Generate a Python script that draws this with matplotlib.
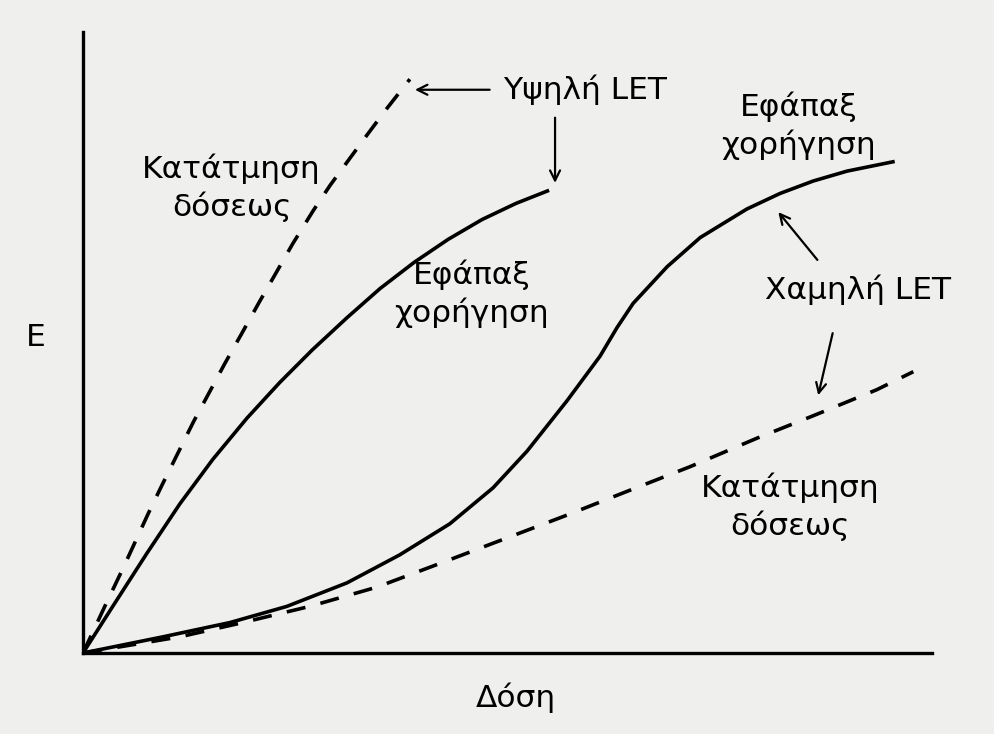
import numpy as np
import matplotlib.pyplot as plt

# δόση (x) και επίδραση E (y), αυθαίρετες μονάδες 0-100
high_frac_x = [0, 2.6, 4.7, 7.7, 9.4, 13.0, 16.7, 18.8, 20.8, 22.9, 24.7, 27.1,
               29.1, 31.4, 33.5, 35.8, 38.5]
high_frac_y = [0, 7.6, 13.6, 22.5, 27.3, 37.2, 46.6, 51.7, 56.6, 61.6, 65.9, 71.2,
               75.3, 79.6, 83.5, 87.7, 92.4]

high_single_x = [0, 3.5, 7.5, 11.4, 15.3, 19.3, 23.2, 27.0, 31.1, 35.0, 39.0, 43.0,
                 47.0, 51.0, 54.7]
high_single_y = [0, 7.5, 16.0, 24.0, 31.2, 37.8, 43.6, 48.8, 54.0, 58.7, 62.9, 66.6,
                 69.8, 72.4, 74.4]

low_single_x = [0, 9.4, 17.3, 24.0, 31.1, 37.3, 43.2, 48.3, 52.3, 57.0, 60.9, 62.9,
                64.8, 68.8, 72.7, 78.2, 82.1, 86.0, 90.0, 95.4]
low_single_y = [0, 2.6, 4.9, 7.5, 11.3, 15.8, 20.8, 26.6, 32.5, 40.6, 47.8, 52.4,
                56.3, 62.2, 66.9, 71.5, 74.0, 76.0, 77.6, 79.1]

low_frac_x = [0, 11.4, 18.5, 26.7, 34.6, 42.0, 49.5, 57.0, 64.4, 71.5, 79.4, 86.0,
              93.5, 97.8]
low_frac_y = [0, 2.6, 4.8, 7.5, 10.6, 14.4, 18.3, 22.2, 26.2, 30.0, 34.6, 38.2,
              42.4, 45.3]

bg = '#efefed'
fs = 22.5
lw = 2.6
plt.rcParams['font.family'] = ['DejaVu Sans']

fig = plt.figure(figsize=(9.94, 7.34), dpi=100, facecolor=bg)
ax = fig.add_axes([83/994, 81/734, 849/994, 621/734])
ax.set_facecolor(bg)

ax.plot(high_frac_x, high_frac_y, color='black', lw=lw, dashes=(5.3, 4.3))
ax.plot(high_single_x, high_single_y, color='black', lw=lw, solid_joinstyle='round')
ax.plot(low_single_x, low_single_y, color='black', lw=lw, solid_joinstyle='round')
ax.plot(low_frac_x, low_frac_y, color='black', lw=lw, dashes=(5.3, 4.3))

ax.set_xlim(0, 100)
ax.set_ylim(0, 100)
for s in ['top', 'right']:
    ax.spines[s].set_visible(False)
for s in ['left', 'bottom']:
    ax.spines[s].set_linewidth(2.4)
ax.set_xticks([])
ax.set_yticks([])

# ετικέτες
ax.text(17.5, 74.9, 'Κατάτμηση\nδόσεως', fontsize=fs, ha='center', va='center', linespacing=1.3)
ax.text(59.1, 90.7, 'Υψηλή LET', fontsize=fs, ha='center', va='center')
ax.text(45.8, 57.8, 'Εφάπαξ\nχορήγηση', fontsize=fs, ha='center', va='center', linespacing=1.3)
ax.text(84.3, 84.9, 'Εφάπαξ\nχορήγηση', fontsize=fs, ha='center', va='center', linespacing=1.3)
ax.text(91.3, 58.5, 'Χαμηλή LET', fontsize=fs, ha='center', va='center')
ax.text(83.3, 23.5, 'Κατάτμηση\nδόσεως', fontsize=fs, ha='center', va='center', linespacing=1.3)

arrow = dict(arrowstyle='->', color='black', lw=1.6, mutation_scale=18, shrinkA=0, shrinkB=0)
ax.annotate('', xy=(39.1, 90.7), xytext=(47.9, 90.7), arrowprops=arrow)
ax.annotate('', xy=(55.6, 75.7), xytext=(55.6, 86.2), arrowprops=arrow)
ax.annotate('', xy=(81.9, 71.0), xytext=(86.5, 63.3), arrowprops=arrow)
ax.annotate('', xy=(86.6, 41.5), xytext=(88.3, 51.5), arrowprops=arrow)

fig.text(36/994, 1 - 338/734, 'Ε', fontsize=fs, ha='center', va='center')
fig.text(516/994, 1 - 698/734, 'Δόση', fontsize=fs, ha='center', va='center')

fig.savefig('out.png', dpi=100, facecolor=bg)
